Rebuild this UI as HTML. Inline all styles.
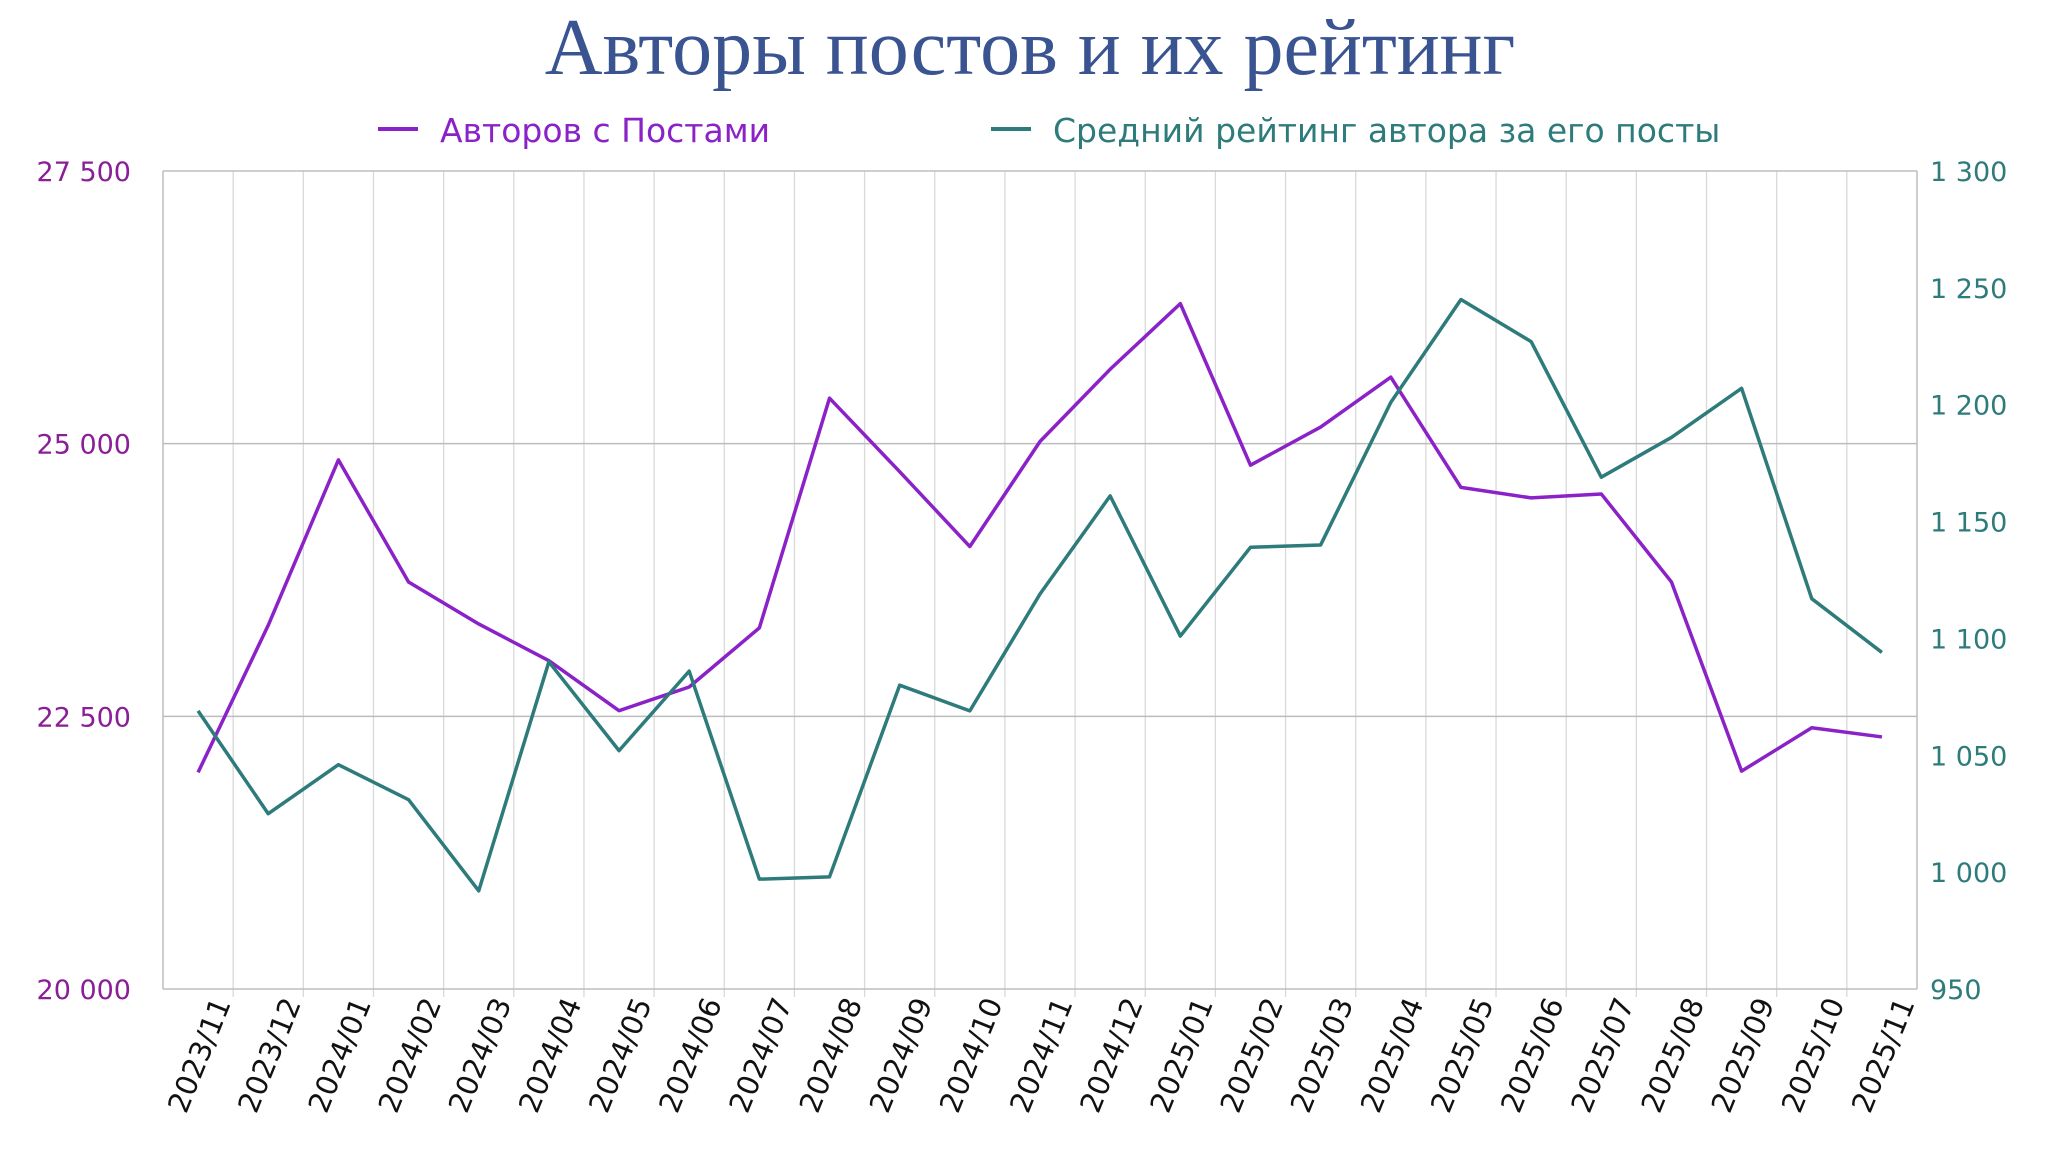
<!DOCTYPE html>
<html><head><meta charset="utf-8"><style>
html,body{margin:0;padding:0;background:#fff;}
svg text{font-family:"DejaVu Sans","Liberation Sans",sans-serif;}
</style></head><body>
<svg id="chart" width="2048" height="1144" viewBox="0 0 2048 1144" xmlns="http://www.w3.org/2000/svg">
<text x="1030" y="74" text-anchor="middle" font-size="80" fill="#3a5391" style="font-family:'Liberation Serif',serif">Авторы постов и их рейтинг</text>
<g>
<g><line x1="378" y1="129" x2="418" y2="129" stroke="#8b22c8" stroke-width="4"/><text x="440" y="142" font-size="33" fill="#8b22c8">Авторов с Постами</text></g>
<g><line x1="991" y1="129" x2="1031" y2="129" stroke="#2e7b7b" stroke-width="4"/><text x="1053" y="142" font-size="33" fill="#2e7b7b">Средний рейтинг автора за его посты</text></g>
</g>
<g id="grid"></g>
<g id="axes"></g>
<g id="series"></g>
</svg>
<script>
const categories=["2023/11","2023/12","2024/01","2024/02","2024/03","2024/04","2024/05","2024/06","2024/07","2024/08","2024/09","2024/10","2024/11","2024/12","2025/01","2025/02","2025/03","2025/04","2025/05","2025/06","2025/07","2025/08","2025/09","2025/10","2025/11"];
const authors=[21986,23335,24851,23732,23347,23010,22552,22769,23311,25417,24743,24057,25020,25682,26284,24803,25152,25610,24599,24503,24539,23732,21998,22395,22311];
const rating=[1069,1025,1046,1031,992,1090,1052,1086,997,998,1080,1069,1119,1161,1101,1139,1140,1201,1245,1227,1169,1186,1207,1117,1094];
const leftTicks=[20000,22500,25000,27500];
const leftLabels=["20 000","22 500","25 000","27 500"];
const rightTicks=[950,1000,1050,1100,1150,1200,1250,1300];
const rightLabels=["950","1 000","1 050","1 100","1 150","1 200","1 250","1 300"];

const NS="http://www.w3.org/2000/svg";
const L=163,R=1917,T=171,B=989;
const bw=(R-L)/categories.length;
const xC=i=>L+bw*(i+0.5);
const yL=v=>B-(v-20000)/7500*(B-T);
const yR=v=>B-(v-950)/350*(B-T);
function mk(tag,attrs,parent){const e=document.createElementNS(NS,tag);for(const k in attrs)e.setAttribute(k,attrs[k]);parent.appendChild(e);return e;}
const grid=document.getElementById('grid'),axes=document.getElementById('axes'),series=document.getElementById('series');
for(let i=1;i<categories.length;i++){
  const g=mk('line',{x1:L+bw*i,x2:L+bw*i,y1:T,y2:B+8,stroke:'#d9d9d9','stroke-width':1.3},grid);
  
  
}
leftTicks.forEach((v,i)=>{
  const y=yL(v);
  if(i>0&&i<leftTicks.length-1){const g=mk('line',{x1:L,x2:R,y1:y,y2:y,stroke:'#bdbdbd','stroke-width':1.5},grid);
  
  }
  const t=mk('text',{x:131,y:y+10,'text-anchor':'end','font-size':27,fill:'#8a1e96'},axes);t.textContent=leftLabels[i];
  
  
});
rightTicks.forEach((v,i)=>{
  const t=mk('text',{x:1930,y:yR(v)+10,'font-size':27,fill:'#2e7b7b'},axes);t.textContent=rightLabels[i];
  
  
});
const frame=[[L,T,R,T],[L,T,L,B],[R,T,R,B],[L,B,R,B]];
frame.forEach(f=>{const l=mk('line',{x1:f[0],y1:f[1],x2:f[2],y2:f[3],stroke:'#bdbdbd','stroke-width':1.5},axes);
  
  });
categories.forEach((c,i)=>{
  const x=L+bw*(i+1)-2,y=B+14;
  const t=mk('text',{x:x,y:y,'text-anchor':'end','font-size':29,fill:'#111',transform:`rotate(-68 ${x} ${y})`},axes);t.textContent=c;
  
  
});
const p1=mk('polyline',{points:authors.map((v,i)=>xC(i)+','+yL(v)).join(' '),fill:'none',stroke:'#8b22c8','stroke-width':3.5,'stroke-linejoin':'round'},series);


const p2=mk('polyline',{points:rating.map((v,i)=>xC(i)+','+yR(v)).join(' '),fill:'none',stroke:'#2e7b7b','stroke-width':3.5,'stroke-linejoin':'round'},series);


</script>
</body></html>
